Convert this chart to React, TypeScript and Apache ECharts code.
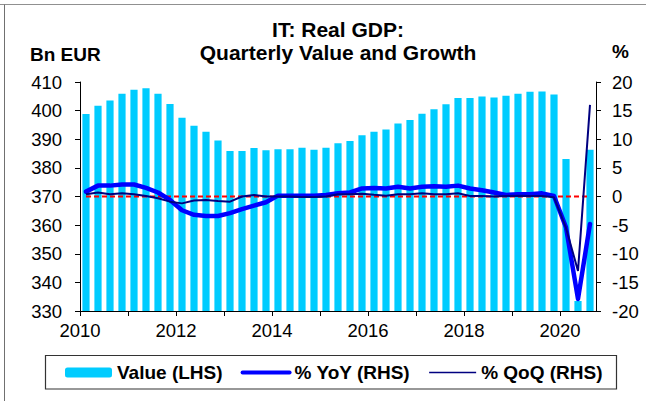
import React, { useEffect, useRef } from "react";
import * as echarts from "echarts";

const quarters = [
  "2010Q1", "2010Q2", "2010Q3", "2010Q4",
  "2011Q1", "2011Q2", "2011Q3", "2011Q4",
  "2012Q1", "2012Q2", "2012Q3", "2012Q4",
  "2013Q1", "2013Q2", "2013Q3", "2013Q4",
  "2014Q1", "2014Q2", "2014Q3", "2014Q4",
  "2015Q1", "2015Q2", "2015Q3", "2015Q4",
  "2016Q1", "2016Q2", "2016Q3", "2016Q4",
  "2017Q1", "2017Q2", "2017Q3", "2017Q4",
  "2018Q1", "2018Q2", "2018Q3", "2018Q4",
  "2019Q1", "2019Q2", "2019Q3", "2019Q4",
  "2020Q1", "2020Q2", "2020Q3",
];

const gdpValue = [
  398.8, 401.7, 403.5, 405.9,
  407.3, 407.8, 405.9, 402.3,
  397.5, 394.7, 392.6, 389.6,
  385.9, 385.9, 386.9, 386.2,
  386.5, 386.5, 387.0, 386.3,
  387.0, 388.6, 389.4, 391.4,
  392.6, 393.4, 395.5, 396.7,
  398.9, 400.5, 402.2, 404.4,
  404.4, 404.9, 404.6, 405.2,
  405.9, 406.6, 406.7, 405.6,
  383.1, 333.5, 386.3,
];

const yoyGrowth = [
  0.85, 1.9, 1.9, 2.1,
  2.1, 1.5, 0.7, -0.6,
  -2.4, -3.2, -3.4, -3.4,
  -2.9, -2.2, -1.6, -1.0,
  0.15, 0.15, 0.15, 0.15,
  0.26, 0.55, 0.7, 1.4,
  1.5, 1.4, 1.7, 1.4,
  1.7, 1.8, 1.7, 1.9,
  1.4, 1.1, 0.7, 0.26,
  0.4, 0.4, 0.55, 0.1,
  -5.4, -17.9, -4.8,
];

const qoqGrowth = [
  0.4, 0.7, 0.4, 0.55,
  0.4, 0.1, -0.3, -0.9,
  -1.2, -0.7, -0.6, -0.8,
  -0.9, 0.0, 0.26, 0.0,
  0.0, 0.0, -0.1, -0.1,
  0.0, 0.4, 0.4, 0.5,
  0.3, 0.15, 0.4, 0.4,
  0.55, 0.4, 0.4, 0.55,
  0.1, 0.1, 0.0, 0.1,
  0.15, 0.1, 0.1, -0.15,
  -5.5, -13.0, 16.0,
];

const zeroLine = quarters.map(() => 0);

const titleLines = ["IT: Real GDP:", "Quarterly Value and Growth"];
const leftAxisName = "Bn EUR";
const rightAxisName = "%";
const seriesNames = ["Value (LHS)", "% YoY (RHS)", "% QoQ (RHS)"];

const FONT = "'Liberation Sans', Arial, Helvetica, sans-serif";

export default function App() {
  const ref = useRef<HTMLDivElement>(null);

  useEffect(() => {
    if (!ref.current) return;
    const chart = echarts.init(ref.current, undefined, { renderer: "svg" });
    const tickFont = { fontSize: 18.5, color: "#000", fontFamily: FONT };
    const axisLine = { show: true, lineStyle: { color: "#000", width: 1 } };
    const axisTick = { show: true, inside: false, length: 5, lineStyle: { color: "#000", width: 1 } };

    chart.setOption({
      animation: false,
      backgroundColor: "#fff",
      grid: { left: 80, top: 82, right: 50, bottom: 90, containLabel: false },
      xAxis: [
        { type: "category", data: quarters, show: false, boundaryGap: true },
        {
          type: "value",
          min: 2010,
          max: 2020.75,
          interval: 1,
          position: "bottom",
          axisLine,
          axisTick,
          splitLine: { show: false },
          axisLabel: {
            ...tickFont,
            margin: 10,
            showMaxLabel: false,
            formatter: (v: number) => (Number.isInteger(v) && v % 2 === 0 ? String(v) : ""),
          },
        },
      ],
      yAxis: [
        {
          type: "value",
          min: 330,
          max: 410,
          interval: 10,
          position: "left",
          axisLine,
          axisTick,
          splitLine: { show: false },
          axisLabel: { ...tickFont, margin: 18 },
        },
        {
          type: "value",
          min: -20,
          max: 20,
          interval: 5,
          position: "right",
          axisLine,
          axisTick,
          splitLine: { show: false },
          axisLabel: { ...tickFont, margin: 16 },
        },
      ],
      legend: {
        data: [
          { name: seriesNames[0] },
          {
            name: seriesNames[1],
            itemStyle: { opacity: 0 },
            lineStyle: { width: 4, color: "#0000FF", cap: "round" },
          },
          {
            name: seriesNames[2],
            itemStyle: { opacity: 0 },
            lineStyle: { width: 1.6, color: "#000080" },
          },
        ],
        left: 65,
        top: 363,
        padding: 0,
        itemWidth: 47,
        itemHeight: 10,
        itemGap: 18,
        selectedMode: false,
        textStyle: { fontSize: 19, fontWeight: "bold", color: "#000", fontFamily: FONT },
      },
      graphic: [
        { type: "line", shape: { x1: 0, y1: 4.5, x2: 646, y2: 4.5 }, style: { stroke: "#909090", lineWidth: 1 } },
        { type: "line", shape: { x1: 4.5, y1: 4.5, x2: 4.5, y2: 401 }, style: { stroke: "#707070", lineWidth: 1 } },
        {
          type: "text", x: 338, y: 29,
          style: { text: titleLines[0], textAlign: "center", textVerticalAlign: "middle", font: `bold 21px ${FONT}`, fill: "#000" },
        },
        {
          type: "text", x: 338, y: 52.5,
          style: { text: titleLines[1], textAlign: "center", textVerticalAlign: "middle", font: `bold 21px ${FONT}`, fill: "#000" },
        },
        {
          type: "text", x: 30, y: 54.2,
          style: { text: leftAxisName, textAlign: "left", textVerticalAlign: "middle", font: `bold 19px ${FONT}`, fill: "#000" },
        },
        {
          type: "text", x: 612, y: 51.5,
          style: { text: rightAxisName, textAlign: "left", textVerticalAlign: "middle", font: `bold 19px ${FONT}`, fill: "#000" },
        },
        {
          type: "rect",
          shape: { x: 45.5, y: 355.5, width: 571, height: 33.5 },
          style: { fill: "none", stroke: "#333", lineWidth: 1.2 },
        },
      ],
      series: [
        {
          name: seriesNames[0],
          type: "bar",
          xAxisIndex: 0,
          yAxisIndex: 0,
          data: gdpValue,
          barWidth: "60%",
          itemStyle: { color: "#00CCFF" },
          z: 1,
        },
        {
          name: "zero",
          type: "line",
          xAxisIndex: 0,
          yAxisIndex: 1,
          data: zeroLine,
          symbol: "none",
          lineStyle: { color: "#FF0000", width: 2, type: [5, 3] },
          z: 2,
        },
        {
          name: seriesNames[1],
          type: "line",
          xAxisIndex: 0,
          yAxisIndex: 1,
          data: yoyGrowth,
          symbol: "none",
          lineStyle: { color: "#0000FF", width: 4.5, cap: "round", join: "round" },
          itemStyle: { color: "#0000FF" },
          z: 3,
        },
        {
          name: seriesNames[2],
          type: "line",
          xAxisIndex: 0,
          yAxisIndex: 1,
          data: qoqGrowth,
          symbol: "none",
          lineStyle: { color: "#000080", width: 2 },
          itemStyle: { color: "#000080" },
          z: 4,
        },
      ],
    });
    return () => chart.dispose();
  }, []);

  return (
    <div
      ref={ref}
      style={{ position: "absolute", left: 0, top: 0, width: 646, height: 401, background: "#fff" }}
    />
  );
}
